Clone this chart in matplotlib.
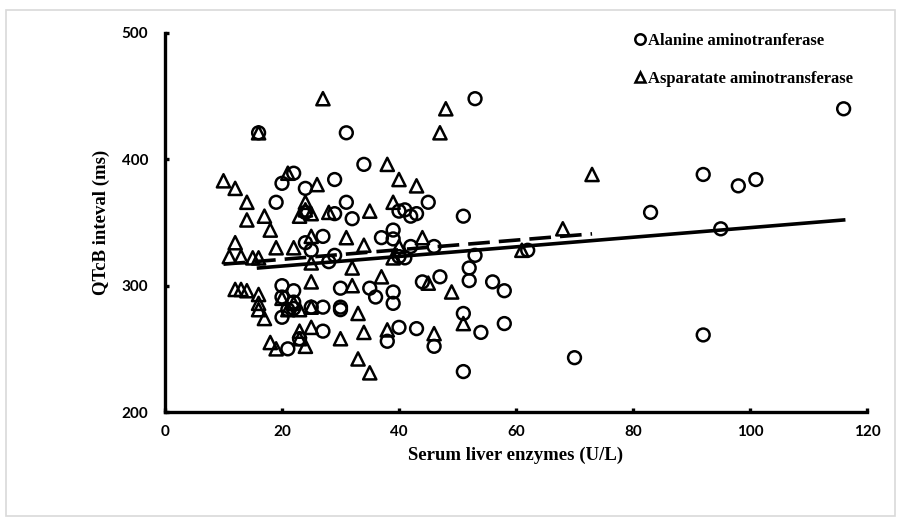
"""Scatter of QTcB interval against serum liver enzymes (ALT / AST) with fit lines."""

import matplotlib
matplotlib.use("Agg")
import matplotlib.pyplot as plt
from matplotlib.lines import Line2D
from matplotlib.patches import Rectangle

plt.rcParams.update({
    "font.family": "Liberation Serif",
    "font.weight": "bold",
})

# Alanine aminotransferase (circles): U/L, QTcB ms
alt_x = [16, 31, 53, 116, 34, 92, 98, 101, 83, 95, 92, 70, 51,
         22, 20, 24, 29, 19, 31, 45, 24, 29, 32, 51, 40, 41, 42, 43,
         39, 37, 39, 27, 24, 25, 42, 46, 29, 28, 40, 41, 53, 62,
         52, 52, 47, 56, 58, 51, 54, 58, 46,
         30, 35, 36, 39, 39, 27, 30, 30, 27, 40, 43, 38, 44,
         20, 22, 20, 22, 20, 21, 22, 25, 23, 21]
alt_y = [421, 421, 448, 440, 396, 388, 379, 384, 358, 345, 261, 243, 232,
         389, 381, 377, 384, 366, 366, 366, 358, 357, 353, 355, 359, 360, 355, 357,
         344, 338, 337, 339, 334, 328, 331, 331, 324, 319, 323, 322, 324, 328,
         314, 304, 307, 303, 296, 278, 263, 270, 252,
         298, 298, 291, 295, 286, 283, 283, 281, 264, 267, 266, 256, 303,
         300, 296, 291, 287, 275, 281, 282, 283, 258, 250]

# Aspartate aminotransferase (triangles)
ast_x = [27, 16, 48, 47, 38, 73, 10, 21, 12, 26, 40, 43,
         14, 24, 39, 14, 17, 18, 23, 24, 25, 28, 35, 68,
         12, 19, 22, 25, 31, 34, 44, 40, 11, 13, 15, 16,
         25, 32, 39, 61, 37, 45, 49, 25, 32,
         12, 13, 14, 16, 16, 16, 17, 20, 21, 22, 23, 25, 33,
         18, 19, 23, 23, 25, 24, 30, 34, 38, 46, 51, 33, 35]
ast_y = [448, 421, 440, 421, 396, 388, 383, 389, 377, 380, 384, 379,
         366, 366, 366, 352, 355, 344, 355, 360, 357, 358, 359, 345,
         334, 330, 330, 339, 338, 332, 338, 331, 323, 323, 322, 322,
         318, 314, 322, 328, 307, 302, 295, 303, 300,
         297, 297, 296, 293, 286, 281, 274, 290, 281, 286, 281, 283, 278,
         255, 250, 264, 258, 267, 252, 258, 263, 265, 262, 270, 242, 231]

# linear fit lines (start, end)
alt_fit_x = [16, 116]
alt_fit_y = [314, 352]
ast_fit_x = [10, 73]
ast_fit_y = [317, 341]

x_ticks = [0, 20, 40, 60, 80, 100, 120]
y_ticks = [200, 300, 400, 500]

fig = plt.figure(figsize=(9.01, 5.21), dpi=100)
fig.patches.append(Rectangle((0.007, 0.01), 0.986, 0.97, transform=fig.transFigure,
                             fill=False, edgecolor="#d9d9d9", linewidth=1.2))
ax = fig.add_axes([0.1831, 0.2092, 0.7792, 0.7275])

ax.scatter(alt_x, alt_y, s=85, marker="o", facecolors="none",
           edgecolors="black", linewidths=1.8, zorder=3)
ax.scatter(ast_x, ast_y, s=90, marker="^", facecolors="none",
           edgecolors="black", linewidths=1.8, zorder=3)
ax.plot(alt_fit_x, alt_fit_y, color="black", linewidth=2.6, zorder=4)
ax.plot(ast_fit_x, ast_fit_y, color="black", linewidth=2.6,
        dashes=(6, 2.5), zorder=4)

ax.set_xlim(0, 120)
ax.set_ylim(200, 500)
ax.set_xticks(x_ticks)
ax.set_yticks(y_ticks)
for side in ["top", "right"]:
    ax.spines[side].set_visible(False)
for side in ["left", "bottom"]:
    ax.spines[side].set_linewidth(2.4)
ax.tick_params(direction="in", length=3, width=2.4, pad=9)
for lab in ax.get_xticklabels() + ax.get_yticklabels():
    lab.set_fontfamily("Lato")
    lab.set_fontweight("bold")
    lab.set_fontsize(11)
ax.tick_params(axis="y", pad=12)

ax.set_xlabel("Serum liver enzymes (U/L)", fontsize=13.5, fontweight="bold", labelpad=6)
ax.set_ylabel("QTcB inteval (ms)", fontsize=13.5, fontweight="bold", labelpad=8)

handles = [
    Line2D([], [], marker="o", linestyle="none", markersize=7.5, markerfacecolor="none",
           markeredgecolor="black", markeredgewidth=1.8, label="Alanine aminotranferase"),
    Line2D([], [], marker="^", linestyle="none", markersize=7.5, markerfacecolor="none",
           markeredgecolor="black", markeredgewidth=1.8, label="Asparatate aminotransferase"),
]
ax.legend(handles=handles, loc="upper left", bbox_to_anchor=(0.648, 1.04),
          frameon=False, handlelength=0.6, handletextpad=0.2, labelspacing=1.35,
          prop={"family": "Liberation Serif", "weight": "bold", "size": 12})

fig.savefig("out.png", dpi=100)
